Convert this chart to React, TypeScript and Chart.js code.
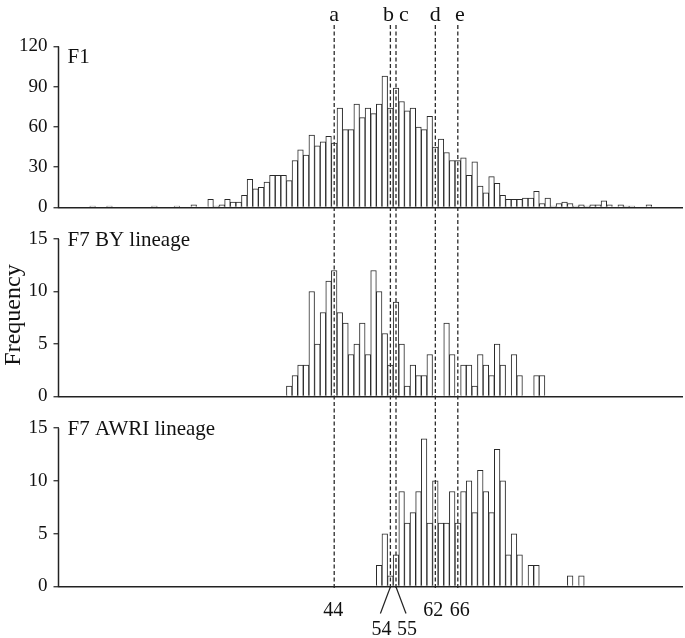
import React, { useEffect, useRef } from 'react';
import { Chart, registerables } from 'chart.js';

Chart.register(...registerables);

// ---- data ----
const f1Start = 1;
const f1Counts = [
  1, 0, 0, 1, 0, 0, 0, 0, 0, 0,
  0, 1, 0, 0, 0, 1, 0, 0, 2, 0,
  0, 6, 1, 2, 6, 4, 4, 9, 21, 14,
  15, 19, 24, 24, 24, 20, 35, 43, 39, 54,
  46, 49, 53, 48, 74, 58, 58, 77, 67, 74,
  70, 77, 98, 74, 89, 79, 72, 74, 60, 58,
  68, 45, 51, 41, 35, 35, 37, 24, 34, 16,
  11, 23, 18, 9, 6, 6, 6, 7, 7, 12,
  3, 7, 1, 3, 4, 3, 1, 2, 1, 2,
  2, 5, 2, 0, 2, 1, 1, 0, 0, 2,
];
const byStart = 36;
const byCounts = [
  1, 2, 3, 3, 10, 5, 8, 11, 12, 8,
  7, 4, 5, 7, 4, 12, 10, 6, 3, 9,
  5, 1, 3, 2, 2, 4, 0, 0, 7, 4,
  0, 3, 3, 1, 4, 3, 2, 5, 3, 0,
  4, 2, 0, 0, 2, 2,
];
const awriStart = 52;
const awriCounts = [
  2, 5, 1, 3, 9, 6, 7, 9, 14, 6,
  10, 6, 6, 9, 6, 9, 10, 7, 11, 9,
  7, 13, 10, 3, 5, 3, 0, 2, 2, 0,
  0, 0, 0, 0, 1, 0, 1,
];
const f1Ticks = [0, 30, 60, 90, 120];
const f7Ticks = [0, 5, 10, 15];
const markerValues = [44, 54, 55, 62, 66];
const markerLetters = ['a', 'b', 'c', 'd', 'e'];
const panelTitles = ['F1', 'F7 BY lineage', 'F7 AWRI lineage'];
const yTitle = 'Frequency';

const FONT = "'Liberation Serif', 'Times New Roman', serif";
const INK = '#222';

// styling offsets (px) for the marker annotations
const letterOffsets = [0, -2, 8, 0, 2];
const bottomOffsets = [-1, -9, 11, -2, 2];
const bottomRow = [0, 1, 1, 0, 0];

function toPoints(start: number, counts: number[]) {
  return counts.map((c, i) => ({ x: start + i, y: c }));
}

function yScale(ticks: number[], max: number) {
  return {
    type: 'linear',
    position: 'left',
    stack: 'panels',
    min: 0,
    max,
    afterBuildTicks: (s: any) => {
      s.ticks = ticks.map((v) => ({ value: v }));
    },
    afterFit: (s: any) => {
      s.width = 58.5;
    },
    border: { display: false },
    grid: {
      drawOnChartArea: true,
      color: (c: any) => (c.tick && c.tick.value === 0 ? INK : 'rgba(0,0,0,0)'),
      lineWidth: 1.5,
      tickColor: INK,
      tickWidth: 1.2,
      tickLength: 5,
    },
    ticks: {
      color: '#111',
      font: { family: FONT, size: 19 },
      padding: 6,
      autoSkip: false,
    },
  };
}

const overlayPlugin = {
  id: 'overlay',
  afterDatasetsDraw(chart: any) {
    const { ctx, chartArea, scales } = chart;
    const xs = scales.x;
    ctx.save();

    // y axis lines
    const axes: [string, number[]][] = [['y1', f1Ticks], ['y2', f7Ticks], ['y3', f7Ticks]];
    ctx.strokeStyle = INK;
    ctx.lineWidth = 1.5;
    axes.forEach(([id, t]) => {
      const s = scales[id];
      ctx.beginPath();
      ctx.moveTo(chartArea.left, s.getPixelForValue(0) + 0.75);
      ctx.lineTo(chartArea.left, s.getPixelForValue(t[t.length - 1]));
      ctx.stroke();
    });

    // panel titles
    ctx.fillStyle = '#111';
    ctx.font = `21px ${FONT}`;
    ctx.textAlign = 'left';
    ctx.textBaseline = 'alphabetic';
    ['y1', 'y2', 'y3'].forEach((id, i) => {
      const s = scales[id];
      ctx.fillText(panelTitles[i], chartArea.left + 9, s.top + 38);
    });

    // dashed marker lines
    ctx.setLineDash([4, 2.5]);
    ctx.lineWidth = 1.3;
    ctx.strokeStyle = '#2a2a2a';
    markerValues.forEach((v) => {
      const px = xs.getPixelForValue(v);
      ctx.beginPath();
      ctx.moveTo(px, chartArea.top);
      ctx.lineTo(px, chartArea.bottom + 2);
      ctx.stroke();
    });
    ctx.setLineDash([]);

    // letters
    ctx.font = `22px ${FONT}`;
    ctx.textAlign = 'center';
    markerValues.forEach((v, i) => {
      const px = xs.getPixelForValue(v) + letterOffsets[i];
      ctx.fillText(markerLetters[i], px, chartArea.top - 4);
    });

    // bottom value labels
    ctx.font = `20px ${FONT}`;
    markerValues.forEach((v, i) => {
      const px = xs.getPixelForValue(v) + bottomOffsets[i];
      const y = chartArea.bottom + (bottomRow[i] ? 48.5 : 29);
      ctx.fillText(String(v), px, y);
    });
    // leader lines for the close pair
    ctx.strokeStyle = INK;
    ctx.lineWidth = 1.2;
    markerValues.forEach((v, i) => {
      if (!bottomRow[i]) return;
      const px = xs.getPixelForValue(v);
      const dir = bottomOffsets[i] < 0 ? -1 : 1;
      ctx.beginPath();
      ctx.moveTo(px, chartArea.bottom + 0.5);
      ctx.lineTo(px + dir * 10, chartArea.bottom + 27);
      ctx.stroke();
    });

    // y title
    ctx.save();
    ctx.translate(14, 315);
    ctx.rotate(-Math.PI / 2);
    ctx.font = `24px ${FONT}`;
    ctx.textAlign = 'center';
    ctx.textBaseline = 'middle';
    ctx.fillText(yTitle, 0, 0);
    ctx.restore();

    ctx.restore();
  },
};

export default function App() {
  const ref = useRef<HTMLCanvasElement | null>(null);

  useEffect(() => {
    document.body.style.margin = '0';
    if (!ref.current) return;
    const barStyle = {
      backgroundColor: '#ffffff',
      borderColor: '#2a2a2a',
      borderWidth: 1,
      barPercentage: 1,
      categoryPercentage: 1,
      grouped: false,
    };
    const chart = new Chart(ref.current, {
      type: 'bar',
      data: {
        datasets: [
          { label: panelTitles[0], data: toPoints(f1Start, f1Counts), yAxisID: 'y1', ...barStyle },
          { label: panelTitles[1], data: toPoints(byStart, byCounts), yAxisID: 'y2', ...barStyle },
          { label: panelTitles[2], data: toPoints(awriStart, awriCounts), yAxisID: 'y3', ...barStyle },
        ] as any,
      },
      options: {
        animation: false,
        responsive: false,
        devicePixelRatio: 1,
        layout: { padding: { top: 25, right: 2, bottom: 51.5, left: 0 } },
        plugins: { legend: { display: false }, tooltip: { enabled: false } },
        scales: {
          x: { type: 'linear', min: -5.07, max: 106.08, offset: false, display: false },
          y3: { ...yScale(f7Ticks, 18), stackWeight: 190 },
          y2: { ...yScale(f7Ticks, 18), stackWeight: 189 },
          y1: { ...yScale(f1Ticks, 136), stackWeight: 182.5 },
        } as any,
      },
      plugins: [overlayPlugin],
    });
    return () => chart.destroy();
  }, []);

  return (
    <div style={{ width: 685, height: 638, position: 'relative', background: '#fff' }}>
      <canvas ref={ref} width={685} height={638} style={{ display: 'block' }} />
    </div>
  );
}
